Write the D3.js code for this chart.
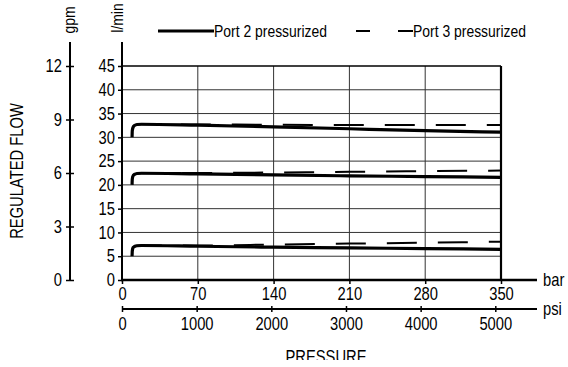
<!DOCTYPE html>
<html><head><meta charset="utf-8">
<script src="https://cdn.jsdelivr.net/npm/d3@7"></script>
<style>
html,body{margin:0;padding:0;background:#fff;}
svg{display:block;}
text{font-family:"Liberation Sans",Arial,sans-serif;fill:#000;}
</style></head>
<body><svg id="c" width="568" height="367"></svg>
<script>
// ---- data ----
const barTicks = [0, 70, 140, 210, 280, 350];
const psiTicks = [0, 1000, 2000, 3000, 4000, 5000];
const lminTicks = [0, 5, 10, 15, 20, 25, 30, 35, 40, 45];
const gpmTicks = [0, 3, 6, 9, 12];
const seriesNames = ["Port 2 pressurized", "Port 3 pressurized"];
// pressure (bar) points for each curve
const pressure = [9.3, 9.5, 10.2, 11.5, 14, 18, 70, 140, 210, 280, 350];
const port2High = [30.0, 31.4, 32.1, 32.5, 32.7, 32.75, 32.55, 32.2, 31.8, 31.4, 31.1];
const port3High = [30.0, 31.4, 32.1, 32.5, 32.7, 32.75, 32.7, 32.65, 32.6, 32.6, 32.6];
const port2Mid  = [20.0, 21.2, 21.9, 22.2, 22.4, 22.45, 22.3, 22.1, 21.9, 21.75, 21.6];
const port3Mid  = [20.0, 21.2, 21.9, 22.2, 22.4, 22.45, 22.5, 22.6, 22.75, 22.9, 23.0];
const port2Low  = [5.0, 6.1, 6.8, 7.05, 7.2, 7.25, 7.1, 6.9, 6.75, 6.6, 6.45];
const port3Low  = [5.0, 6.1, 6.8, 7.05, 7.2, 7.25, 7.25, 7.45, 7.65, 7.85, 8.05];

const NS = 0.82; // narrow font factor
function narrow(sel) {
  sel.each(function () {
    const t = d3.select(this);
    const xv = +t.attr("x") || 0;
    t.attr("x", xv / NS).attr("transform", `scale(${NS},1)`);
  });
}

const svg = d3.select("#c");
const x = d3.scaleLinear().domain([0, 350]).range([122, 501]);
const xPsi = d3.scaleLinear().domain([0, 350 * 14.5038]).range([122, 501]);
const y = d3.scaleLinear().domain([0, 45]).range([280, 66]);
const yGpm = d3.scaleLinear().domain([0, 12]).range([280, 66]);

// grid
const g = svg.append("g");
g.selectAll(".hg").data(lminTicks.filter(d => d > 0 && d < 45)).join("line")
  .attr("x1", x(0)).attr("x2", x(350)).attr("y1", d => y(d)).attr("y2", d => y(d))
  .attr("stroke", "#333").attr("stroke-width", 1);
g.selectAll(".vg").data(barTicks.filter(d => d > 0 && d < 350)).join("line")
  .attr("x1", d => x(d)).attr("x2", d => x(d)).attr("y1", y(0)).attr("y2", y(45))
  .attr("stroke", "#333").attr("stroke-width", 1);
// border top & right
g.append("line").attr("x1", x(0)).attr("x2", x(350)).attr("y1", y(45)).attr("y2", y(45))
  .attr("stroke", "#000").attr("stroke-width", 1.6);
g.append("line").attr("x1", x(350)).attr("x2", x(350)).attr("y1", y(45)).attr("y2", y(0))
  .attr("stroke", "#000").attr("stroke-width", 2.2);

// curves
const line = d3.line().x((d, i) => x(pressure[i])).y(d => y(d)).curve(d3.curveMonotoneX);
[port3High, port3Mid, port3Low].forEach(s => {
  svg.append("path").attr("d", line(s)).attr("fill", "none").attr("stroke", "#000")
    .attr("stroke-width", 2).attr("stroke-dasharray", "30,21").attr("stroke-dashoffset", 43);
});
[port2High, port2Mid, port2Low].forEach(s => {
  svg.append("path").attr("d", line(s)).attr("fill", "none").attr("stroke", "#000")
    .attr("stroke-width", 3.2).attr("stroke-linecap", "butt");
});

// l/min axis
const ya = svg.append("g").attr("transform", `translate(${x(0)},0)`)
  .call(d3.axisLeft(y).tickValues(lminTicks).tickSize(4).tickPadding(3).tickFormat(d3.format("d")));
ya.select(".domain").remove();
ya.append("line").attr("x1", 0).attr("x2", 0).attr("y1", 42).attr("y2", 281).attr("stroke", "#000").attr("stroke-width", 2);
ya.selectAll(".tick line").attr("stroke", "#000").attr("stroke-width", 1.5);
ya.selectAll(".tick text").attr("font-size", 18).attr("font-family", null).call(narrow);

// gpm axis
const ga = svg.append("g").attr("transform", "translate(70,0)")
  .call(d3.axisLeft(yGpm).tickValues(gpmTicks).tickSize(4).tickPadding(4).tickFormat(d3.format("d")));
ga.select(".domain").remove();
ga.append("line").attr("x1", 0).attr("x2", 0).attr("y1", 42).attr("y2", 280).attr("stroke", "#000").attr("stroke-width", 2);
ga.selectAll(".tick line").attr("x1", 4).attr("x2", -4).attr("stroke", "#000").attr("stroke-width", 1.5);
ga.selectAll(".tick text").attr("font-size", 18).attr("font-family", null).call(narrow);

// bar axis
const xa = svg.append("g").attr("transform", `translate(0,${y(0)})`)
  .call(d3.axisBottom(x).tickValues(barTicks).tickSize(4).tickPadding(3).tickFormat(d3.format("d")));
xa.select(".domain").remove();
xa.append("line").attr("x1", x(0) - 1).attr("x2", 537).attr("y1", 0).attr("y2", 0).attr("stroke", "#000").attr("stroke-width", 2.5);
xa.selectAll(".tick line").attr("stroke", "#000").attr("stroke-width", 1.5);
xa.selectAll(".tick text").attr("font-size", 18).attr("font-family", null).call(narrow);

// psi axis
const pa = svg.append("g").attr("transform", "translate(0,309)")
  .call(d3.axisBottom(xPsi).tickValues(psiTicks).tickSize(3).tickPadding(5).tickFormat(d3.format("d")));
pa.select(".domain").remove();
pa.append("line").attr("x1", x(0)).attr("x2", 537).attr("y1", 0).attr("y2", 0).attr("stroke", "#000").attr("stroke-width", 2);
pa.selectAll(".tick line").attr("y1", -3).attr("y2", 3).attr("stroke", "#000").attr("stroke-width", 1.5);
pa.selectAll(".tick text").attr("font-size", 18).attr("font-family", null).call(narrow);

// unit labels
const ul = (tx, ty, rot, size, anchor, txt) =>
  svg.append("text").attr("transform", `translate(${tx},${ty})${rot ? " rotate(-90)" : ""} scale(${NS},1)`)
    .attr("text-anchor", anchor).attr("font-size", size).text(txt);
ul(543, 286, false, 18, "start", "bar");
ul(543, 315, false, 18, "start", "psi");
ul(75, 20, true, 17, "middle", "gpm");
ul(123, 18, true, 17, "middle", "l/min");
ul(23, 171, true, 18, "middle", "REGULATED FLOW");
ul(326, 363, false, 18, "middle", "PRESSURE");

// legend
svg.append("line").attr("x1", 158).attr("x2", 214).attr("y1", 31).attr("y2", 31).attr("stroke", "#000").attr("stroke-width", 3);
ul(214, 37, false, 17, "start", seriesNames[0]);
svg.append("line").attr("x1", 356).attr("x2", 370).attr("y1", 31).attr("y2", 31).attr("stroke", "#000").attr("stroke-width", 2);
svg.append("line").attr("x1", 398).attr("x2", 413).attr("y1", 31).attr("y2", 31).attr("stroke", "#000").attr("stroke-width", 2);
ul(413, 37, false, 17, "start", seriesNames[1]);

// bottom crop of reference
svg.append("rect").attr("x", 0).attr("y", 360).attr("width", 568).attr("height", 7).attr("fill", "#fff");
</script></body></html>
